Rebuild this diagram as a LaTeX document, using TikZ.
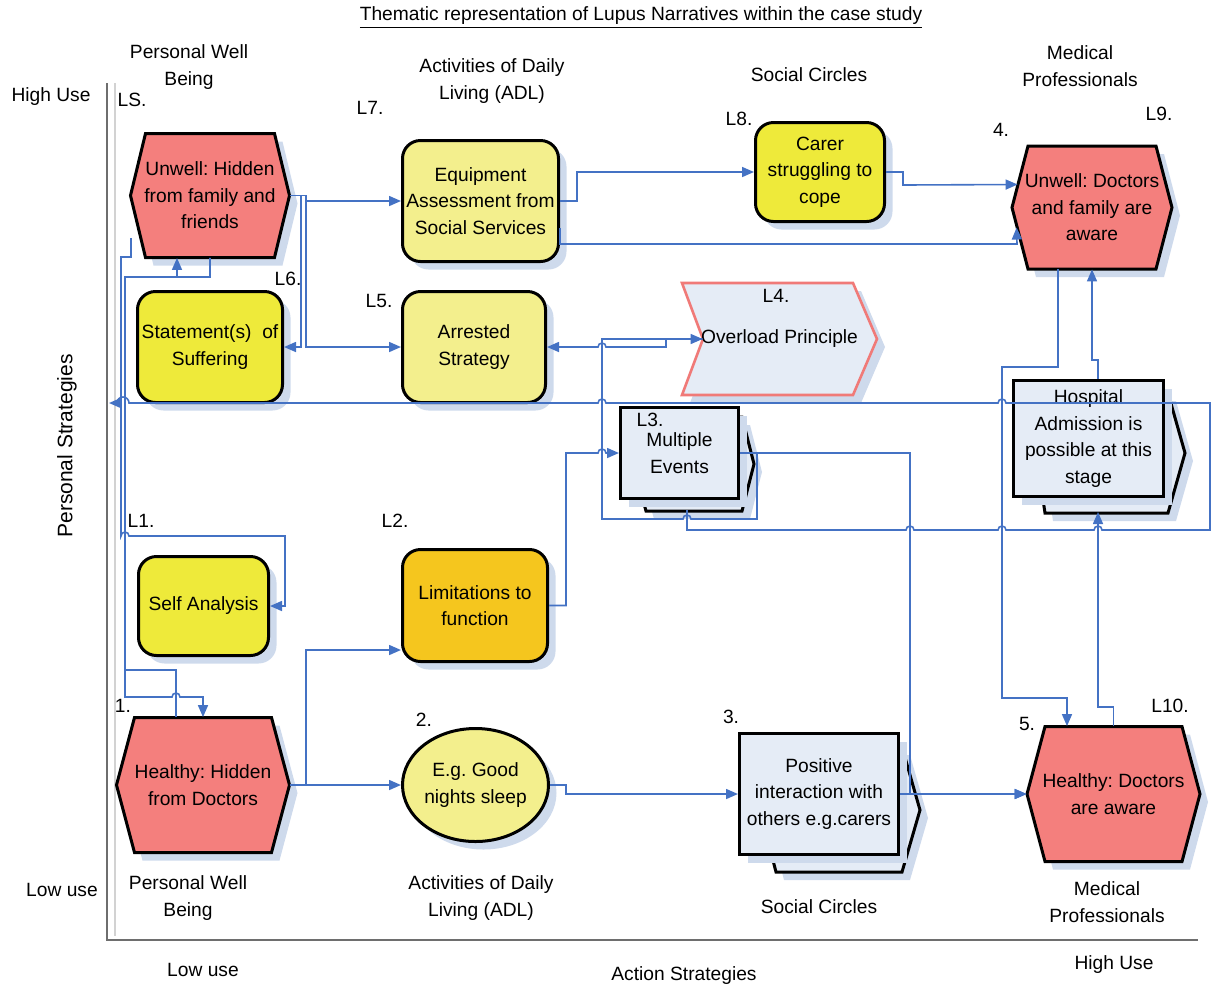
\documentclass[tikz,border=0pt]{standalone}
\usepackage{fontspec}
\setmainfont{Liberation Sans}
\usetikzlibrary{arrows.meta,shadows,calc,shapes.geometric}
\frenchspacing

\definecolor{salmon}{RGB}{244,127,125}
\definecolor{ybright}{RGB}{238,234,58}
\definecolor{ypale}{RGB}{243,239,141}
\definecolor{yorange}{RGB}{245,198,30}
\definecolor{lblue}{RGB}{229,236,246}
\definecolor{cblue}{RGB}{68,114,196}
\definecolor{shadowc}{RGB}{206,218,236}
\definecolor{ovlborder}{RGB}{240,122,120}
\definecolor{axisgray}{RGB}{110,110,110}

\newcommand\nodefont{\fontsize{9.6}{13.2}\selectfont\frenchspacing}

% hexagon: centre x, centre y, width, height, side inset, fill colour
\newcommand\hexagon[6]{%
  \fill[shade, shift={(8,8)}] (#1-#3/2,#2) -- (#1-#3/2+#5,#2-#4/2) -- (#1+#3/2-#5,#2-#4/2)
     -- (#1+#3/2,#2) -- (#1+#3/2-#5,#2+#4/2) -- (#1-#3/2+#5,#2+#4/2) -- cycle;
  \filldraw[fill=#6, shapeline] (#1-#3/2,#2) -- (#1-#3/2+#5,#2-#4/2) -- (#1+#3/2-#5,#2-#4/2)
     -- (#1+#3/2,#2) -- (#1+#3/2-#5,#2+#4/2) -- (#1-#3/2+#5,#2+#4/2) -- cycle;}

\tikzset{
  txt/.style={font=\nodefont, align=center, inner sep=0pt},
  lbl/.style={font=\nodefont, align=center, inner sep=0pt},
  shade/.style={fill=shadowc},
  shapeline/.style={draw=black, line width=1.5pt, line join=miter},
  softshadow/.style={drop shadow={shadow xshift=4pt, shadow yshift=-4pt, fill=shadowc, opacity=1}},
  rbox/.style={txt, draw=black, line width=1.5pt, rounded corners=9pt, softshadow},
  dbox/.style={txt, draw=black, line width=1.5pt, fill=lblue, softshadow},
  conn/.style={draw=cblue, line width=0.8pt, line join=miter, -{Triangle[length=6pt,width=5pt]}},
}

\begin{document}
\begin{tikzpicture}[x=0.5pt, y=-0.5pt]
\useasboundingbox (0,0) rectangle (1216,987);

% ---------- axes ----------
\draw[axisgray, line width=1pt] (107,83) -- (107,940) -- (1198,940);
\draw[gray!35, line width=0.6pt] (115,83) -- (115,936);

% ---------- titles and axis texts ----------
\node[lbl] (title) at (641,18) {\underline{Thematic representation of Lupus Narratives within the case study}};
\node[lbl] (pwbT) at (189,67) {Personal Well\\Being};
\node[lbl] (adlT) at (492,81) {Activities of Daily\\Living (ADL)};
\node[lbl] (scT) at (809,75) {Social Circles};
\node[lbl] (mpT) at (1080,66) {Medical\\Professionals};
\node[lbl] (pwbB) at (188,898) {Personal Well\\Being};
\node[lbl] (adlB) at (481,898) {Activities of Daily\\Living (ADL)};
\node[lbl] (scB) at (819,907) {Social Circles};
\node[lbl] (mpB) at (1107,902) {Medical\\Professionals};
\node[lbl] (hiY) at (51,97) {High Use};
\node[lbl] (loY) at (62,890) {Low use};
\node[lbl, rotate=90, font=\fontsize{10.5}{12}\selectfont] (psY) at (67,446) {Personal Strategies};
\node[lbl] (loX) at (203,970) {Low use};
\node[lbl] (asX) at (684,976) {Action Strategies};
\node[lbl] (hiX) at (1114,965) {High Use};

% ---------- hexagons ----------
\hexagon{210}{195.5}{159}{124}{15}{salmon}
\node[txt, minimum width=79.5pt, minimum height=62pt] (uwh) at (210,195.5) {Unwell: Hidden\\from family and\\friends};
\hexagon{203}{785}{173}{135}{18}{salmon}
\node[txt, minimum width=86.5pt, minimum height=67.5pt] (hhd) at (203,785) {Healthy: Hidden\\from Doctors};
\hexagon{1092}{207.5}{160}{123}{16}{salmon}
\node[txt, minimum width=80pt, minimum height=61.5pt] (uda) at (1092,207.5) {Unwell: Doctors\\and family are\\aware};
\hexagon{1113.5}{794}{173}{135}{18}{salmon}
\node[txt, minimum width=86.5pt, minimum height=67.5pt] (hda) at (1113.5,794) {Healthy: Doctors\\are aware};

% ---------- rounded boxes ----------
\node[rbox, fill=ybright, minimum width=72.5pt, minimum height=55.5pt] (stm) at (210,347) {Statement(s)\ \ of\\Suffering};
\node[rbox, fill=ybright, minimum width=65pt, minimum height=49.5pt] (sfa) at (203.5,606) {Self Analysis};
\node[rbox, fill=ypale, minimum width=78pt, minimum height=60.5pt] (eqp) at (480.5,201) {Equipment\\Assessment from\\Social Services};
\node[rbox, fill=ypale, minimum width=71.5pt, minimum height=55.5pt] (arr) at (474,347) {Arrested\\Strategy};
\node[rbox, fill=yorange, minimum width=72.5pt, minimum height=56pt] (lim) at (475,605.5) {Limitations to\\function};
\node[rbox, fill=ybright, minimum width=64.5pt, minimum height=49.5pt] (car) at (820,172) {Carer\\struggling to\\cope};
\node[ellipse, txt, draw=black, line width=1.5pt, fill=ypale, softshadow, minimum width=73pt, minimum height=56.5pt] (gns) at (475.5,785) {E.g. Good\\nights sleep};

% ---------- chevron ----------
\fill[shade, shift={(8,8)}] (682,283) -- (853,283) -- (877,339) -- (853,395) -- (682,395) -- (703,339) -- cycle;
\filldraw[fill=lblue, draw=ovlborder, line width=1.3pt, line join=miter] (682,283) -- (853,283) -- (877,339) -- (853,395) -- (682,395) -- (703,339) -- cycle;
\node[txt, minimum width=97.5pt, minimum height=56pt] (ovl) at (779.5,339) {Overload Principle};

% ---------- stacked boxes ----------
\fill[shade, shift={(8,8)}] (646,417) -- (742,417) -- (754,464) -- (742,511) -- (646,511) -- (633,464) -- cycle;
\filldraw[fill=lblue, shapeline] (646,417) -- (742,417) -- (754,464) -- (742,511) -- (646,511) -- (633,464) -- cycle;
\node[dbox, minimum width=59pt, minimum height=45.5pt] (mev) at (679.5,453) {Multiple\\Events};

\fill[shade, shift={(8,8)}] (776,747) -- (902,747) -- (920,810) -- (902,872) -- (776,872) -- (760,810) -- cycle;
\filldraw[fill=lblue, shapeline] (776,747) -- (902,747) -- (920,810) -- (902,872) -- (776,872) -- (760,810) -- cycle;
\node[dbox, minimum width=79.5pt, minimum height=60.5pt] (pos) at (819,794) {Positive\\interaction with\\others e.g.carers};

\fill[shade, shift={(8,8)}] (1045,393) -- (1168,393) -- (1185,453) -- (1168,513) -- (1045,513) -- (1036,453) -- cycle;
\filldraw[fill=lblue, shapeline] (1045,393) -- (1168,393) -- (1185,453) -- (1168,513) -- (1045,513) -- (1036,453) -- cycle;
\node[dbox, minimum width=75pt, minimum height=58pt] (hos) at (1088.5,438.5) {Hospital\\Admission is\\possible at this\\stage};

% ---------- step labels ----------
\node[lbl] (tLS) at (132,100) {LS.};
\node[lbl] (tL7) at (370,108) {L7.};
\node[lbl] (tL8) at (739,119) {L8.};
\node[lbl] (t4) at (1001,130) {4.};
\node[lbl] (tL9) at (1159,114) {L9.};
\node[lbl] (tL6) at (288,279) {L6.};
\node[lbl] (tL5) at (379,301) {L5.};
\node[lbl] (tL4) at (776,296) {L4.};
\node[lbl] (tL3) at (650,420) {L3.};
\node[lbl] (tL1) at (141,521) {L1.};
\node[lbl] (tL2) at (395,521) {L2.};
\node[lbl] (t1) at (123,706) {1.};
\node[lbl] (t2) at (424,720) {2.};
\node[lbl] (t3) at (731,717) {3.};
\node[lbl] (t5) at (1027,724) {5.};
\node[lbl] (tL10) at (1170,706) {L10.};

% ---------- connectors ----------
\coordinate (axis) at (109,403);
\coordinate (lsin) at (131,238);

% personal well being column
\draw[conn] (uwh.east) -- (301,195.5) -- (301,347) -- (stm.east);
\draw[conn] (uwh.east) -- (306,195.5) -- (306,347) -- (arr.west);
\draw[conn] (uwh.east) -- (306,195.5) -- (306,201) -- (eqp.west);
\draw[conn] (lsin) -- (131,257) -- (121,257) -- (121,536) arc[start angle=180,end angle=360,radius=4] -- (285,536) -- (285,606) -- (sfa.east);
\draw[conn] (uwh.south) -- (210,277) -- (125,277) -- (125,697) -- (172,697) arc[start angle=180,end angle=360,radius=4] -- (203,697) -- (hhd.north);
\draw[conn] ($(hhd.north)+(-27,0)$) -- (176,670) -- (125,670) -- (125,277) -- (177,277) -- ($(uwh.south)+(-33,0)$);
\draw[conn] (hhd.east) -- (gns.west);
\draw[conn] (hhd.east) -- (306,785) -- (306,650) -- ($(lim.west)+(0,44.5)$);

% activities of daily living column
\draw[conn] (eqp.east) -- (577,201) -- (577,172) -- (car.west);
\draw[conn] ($(eqp.east)+(0,27)$) -- (560,244) -- (1017,244) -- ($(uda.west)+(5,20)$);
\draw[conn] (car.east) -- (903,172) -- (903,185) -- ($(uda.west)+(6,-23)$);
\draw[conn] (lim.east) -- (566,605.5) -- (566,453) -- (598,453) arc[start angle=180,end angle=360,radius=4] -- (mev.west);
\draw[conn] (gns.east) -- (566,785) -- (566,794) -- (pos.west);

% overload loop
\draw[conn] ($(ovl.west)+(21,0)$) -- (666,339) -- (666,347) -- (606,347) arc[start angle=0,end angle=-180,radius=4] -- (arr.east);
\draw[conn] (mev.east) -- (757,453) -- (757,519) -- (691,519) arc[start angle=0,end angle=-180,radius=4] -- (602,519) -- (602,339) -- ($(ovl.west)+(21,0)$);
\draw[conn] (mev.east) -- (910,453) -- (910,794) -- (hda.west);
\draw[conn] (pos.east) -- (hda.west);

% return to personal strategies
\draw[conn] ($(mev.south)+(7.5,10)$) -- (687,530) -- (906,530) arc[start angle=180,end angle=360,radius=4]
   -- (998,530) arc[start angle=180,end angle=360,radius=4]
   -- (1094,530) arc[start angle=180,end angle=360,radius=4]
   -- (1210,530) -- (1210,403) -- (1006,403) arc[start angle=0,end angle=-180,radius=4]
   -- (606,403) arc[start angle=0,end angle=-180,radius=4]
   -- (129,403) arc[start angle=0,end angle=-180,radius=6] -- (axis);

% medical professionals column
\draw[conn] ($(uda.south)+(-34,0)$) -- (1058,367) -- (1002,367) -- (1002,698) -- (1067,698) -- ($(hda.north)+(-46.5,0)$);
\draw[conn] (hda.north) -- (1113.5,707) -- (1098,707) -- ($(hos.south)+(9.5,14)$);
\draw[conn] ($(hos.north)+(9.5,0)$) -- (1098,360) -- (1092,360) -- (uda.south);

\end{tikzpicture}
\end{document}
